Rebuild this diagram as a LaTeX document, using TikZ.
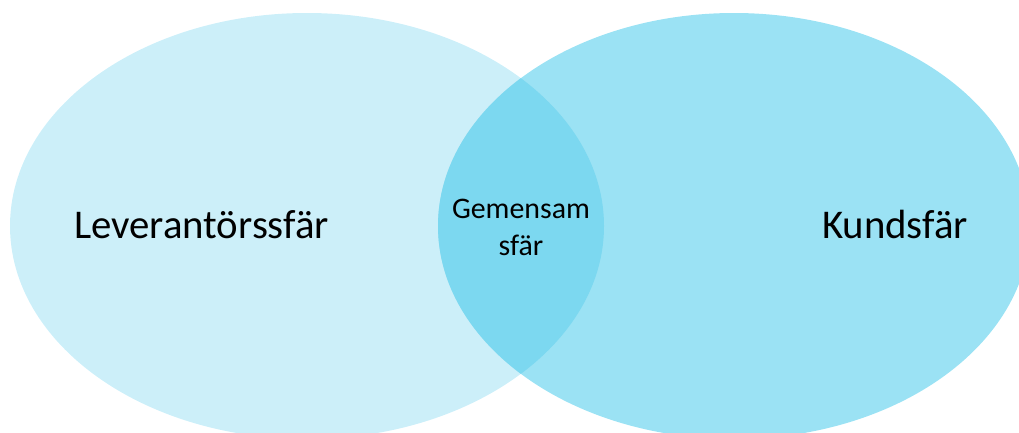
\documentclass[tikz,border=0pt]{standalone}
\usepackage{fontspec}
\setmainfont{Carlito}
\usepackage{xcolor}
\usetikzlibrary{positioning}
\definecolor{sphereleft}{HTML}{CCEFF9}
\definecolor{sphereright}{HTML}{9BE2F4}
\definecolor{spherecommon}{HTML}{7CD8F0}

\begin{document}
\begin{tikzpicture}[x=0.75pt, y=-0.75pt,
    sphere/.style={fill=#1},
    biglabel/.style={anchor=base, font=\fontsize{30.6}{36}\selectfont},
    smalllabel/.style={anchor=base, align=center, font=\fontsize{22.4}{27.75}\selectfont},
]
    \clip (0,0) rectangle (1019,432);
    % the two spheres
    \fill[sphere=sphereleft] (307,226) ellipse [x radius=297, y radius=213];
    \fill[sphere=sphereright] (734,226) ellipse [x radius=296, y radius=213];
    % overlap
    \begin{scope}
        \clip (307,226) ellipse [x radius=297, y radius=213];
        \fill[sphere=spherecommon] (734,226) ellipse [x radius=296, y radius=213];
    \end{scope}

    \node[biglabel] (lev) at (201.5,238) {Leverantörssfär};
    \node[biglabel] (kund) at (895,238) {Kundsfär};
    \node[smalllabel] (gem) at (521,255) {Gemensam\\sfär};
\end{tikzpicture}
\end{document}
